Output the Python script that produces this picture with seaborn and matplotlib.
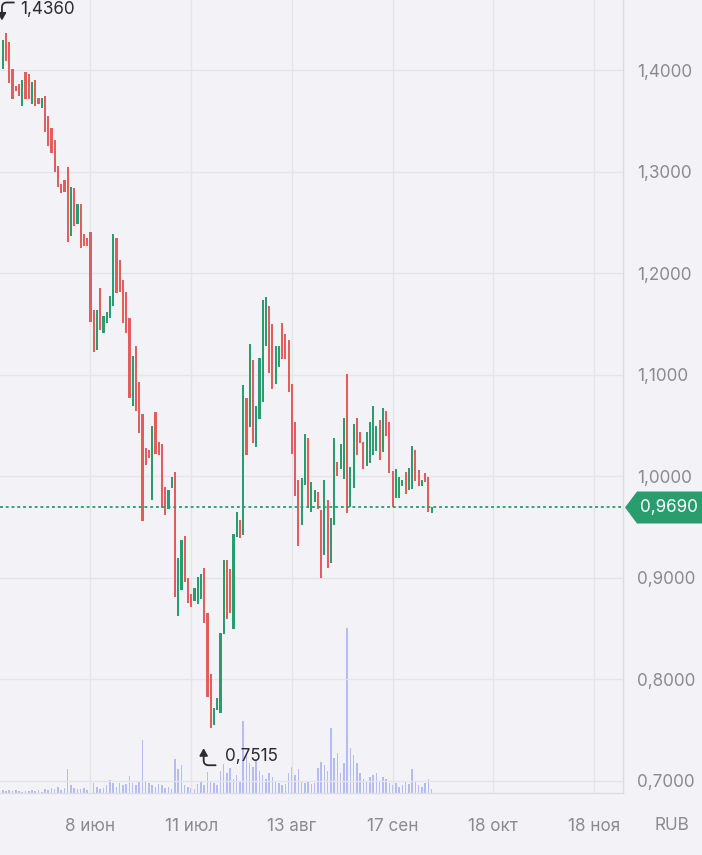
import numpy as np
import pandas as pd
import matplotlib
matplotlib.use("Agg")
import matplotlib.pyplot as plt
import matplotlib.transforms as mtransforms
from matplotlib.patches import Polygon
import seaborn as sns

# ---------------- data ----------------
opens = [1.401, 1.436, 1.4273, 1.4007, 1.3845, 1.3859, 1.3648, 1.3977, 1.396, 1.3668,
         1.3901, 1.3727, 1.3629, 1.3744, 1.3547, 1.3425, 1.331, 1.3057, 1.2874, 1.2916,
         1.3047, 1.2367, 1.284, 1.2483, 1.2677, 1.2381, 1.2342, 1.2407, 1.1635, 1.1241,
         1.1855, 1.1405, 1.1504, 1.156, 1.1678, 1.2342, 1.2128, 1.1931, 1.1816, 1.1553,
         1.069, 1.1284, 1.0929, 1.0608, 1.0273, 1.0256, 0.9764, 1.0634, 1.0332, 1.0312,
         0.9895, 0.9675, 0.9879, 1.0036, 0.8623, 0.8877, 0.9409, 0.8992, 0.8837, 0.8764,
         0.8739, 0.8785, 0.9091, 0.8647, 0.8049, 0.7547, 0.7695, 0.7662, 0.8443, 0.9172,
         0.9081, 0.849, 0.9402, 0.9567, 0.9419, 1.0765, 1.048, 1.1143, 1.0283, 1.0559,
         1.0732, 1.1284, 1.1678, 1.1494, 1.0903, 1.1077, 1.1504, 1.1396, 1.134, 1.0903,
         1.0535, 0.9961, 0.9517, 0.9911, 1.0377, 0.9648, 0.9741, 0.9839, 0.9665, 0.9222,
         0.9764, 0.914, 0.9517, 1.0135, 1.0069, 0.997, 1.1002, 0.9698, 0.9885, 1.0574,
         1.043, 1.0332, 1.0101, 1.0125, 1.0207, 1.0246, 1.0552, 1.0239, 1.064, 1.0529,
         1.0049, 0.978, 0.978, 0.9904, 1.0036, 0.9862, 0.9872, 1.0256, 1.0059, 0.9904,
         1.0026, 0.9993, 0.9633]
closes = [1.4296, 1.409, 1.3869, 1.3714, 1.3793, 1.3747, 1.3901, 1.3714, 1.3714, 1.3884,
          1.3648, 1.3668, 1.3721, 1.3392, 1.3254, 1.3179, 1.3, 1.2844, 1.2785, 1.2801,
          1.2308, 1.285, 1.2466, 1.2677, 1.225, 1.2269, 1.2269, 1.1517, 1.1225, 1.1635,
          1.1438, 1.1579, 1.1613, 1.1776, 1.2381, 1.18, 1.1816, 1.1504, 1.1406, 1.0771,
          1.1185, 1.064, 1.042, 0.9557, 1.0108, 1.018, 1.0496, 1.0214, 1.0207, 0.9682,
          0.9616, 0.9862, 0.9993, 0.8811, 0.9192, 0.9369, 0.8959, 0.8746, 0.8706, 0.8894,
          0.9002, 0.9034, 0.8549, 0.7826, 0.7515, 0.7711, 0.781, 0.845, 0.9172, 0.8588,
          0.8647, 0.9429, 0.9648, 0.9386, 1.0897, 1.0207, 1.13, 1.0322, 1.069, 1.1159,
          1.1734, 1.1767, 1.1012, 1.0857, 1.1284, 1.1284, 1.1153, 1.1153, 1.0831, 1.0214,
          0.9806, 0.9313, 0.9984, 1.0411, 0.9688, 0.9944, 0.9862, 0.9675, 0.8998, 0.9961,
          0.9097, 0.9583, 1.0377, 1.0003, 1.0312, 1.0574, 0.9633, 1.0092, 1.0509, 1.0207,
          1.0322, 1.0069, 1.043, 1.0529, 1.0693, 1.0496, 1.0158, 1.0673, 1.0397, 1.0026,
          0.9698, 1.0069, 0.9993, 0.9961, 0.982, 1.0076, 1.0298, 0.9951, 0.9904, 0.9961,
          0.9944, 0.9648, 0.969]
volumes = [3, 2, 3, 2, 3, 2, 1, 2, 2, 3, 2, 3, 1, 4, 3, 5, 4, 6, 3, 5,
           24, 8, 5, 4, 4, 5, 3, 13, 10, 6, 4, 5, 8, 13, 10, 6, 10, 8, 9, 17,
           10, 8, 12, 53, 12, 10, 8, 6, 9, 8, 5, 6, 4, 34, 24, 28, 8, 6, 5, 4,
           9, 12, 8, 21, 12, 10, 8, 22, 29, 20, 25, 14, 18, 12, 72, 38, 30, 26, 34, 22,
           18, 14, 20, 16, 12, 10, 8, 9, 20, 26, 18, 24, 12, 10, 12, 9, 10, 25, 31, 28,
           22, 65, 35, 40, 20, 30, 165, 45, 38, 30, 20, 14, 12, 16, 18, 20, 12, 16, 14, 10,
           8, 10, 6, 8, 12, 9, 24, 12, 8, 6, 10, 14, 4]
x_tick_pos = [27, 58, 89, 120, 151, 182]
x_tick_labels = ["8 июн", "11 июл", "13 авг", "17 сен", "18 окт", "18 ноя"]
y_ticks = [0.7, 0.8, 0.9, 1.0, 1.1, 1.2, 1.3, 1.4]
last_price = 0.9690
currency = "RUB"

# ---------------- style ----------------
BG = "#f2f2f7"
GRID = "#e4e4ea"
GREEN = "#2a9d6f"
RED = "#e35d5d"
VOL = "#b4bcf2"
LABEL = "#8a8a8f"
DARK = "#2c2c2e"
FS = 12.3

sns.set_theme(style="white", rc={"axes.facecolor": BG, "figure.facecolor": BG})
plt.rcParams["font.family"] = ["Inter", "DejaVu Sans"]

n = len(opens)
df = pd.DataFrame({"i": np.arange(n), "open": opens, "close": closes, "vol": volumes})
df["up"] = df["close"] >= df["open"]

fig = plt.figure(figsize=(7.02, 8.55), dpi=100)
rect = [0.0, 62 / 855, 623 / 702, 793 / 855]
ax_v = fig.add_axes(rect)
ax = fig.add_axes(rect, sharex=ax_v)
ax.patch.set_visible(False)
ax_v.set_facecolor(BG)

# volume (background)
sns.barplot(data=df, x="i", y="vol", native_scale=True, color=VOL, width=0.5,
            saturation=1, errorbar=None, ax=ax_v, linewidth=0, edgecolor="none")
ax_v.set_ylim(0, 793)
ax_v.set_yticks([])
ax_v.set_xlabel("")
ax_v.set_ylabel("")
for s in ax_v.spines.values():
    s.set_visible(False)
ax_v.tick_params(axis="x", length=0, labelbottom=False)
ax_v.grid(False)

# candles
colors = np.where(df["up"], GREEN, RED)
body = (df["close"] - df["open"]).to_numpy()
body = np.where(np.abs(body) < 0.003, np.sign(body + 1e-9) * 0.003, body)
ax.bar(df["i"], body, bottom=df["open"], width=0.68, color=colors, linewidth=0, zorder=3)

ax.set_xlim(-0.83, 190.9)
ax.set_ylim(0.6877, 1.469)

# grid lines
for yv in y_ticks:
    ax.axhline(yv, color=GRID, lw=1.0, zorder=0)
for xv in x_tick_pos:
    ax.axvline(xv, color=GRID, lw=1.0, zorder=0)

# last price dotted line
ax.axhline(last_price, color=GREEN, lw=1.3, ls=(0, (1.6, 1.6)), zorder=4)

# axes ticks
ax.set_xticks(x_tick_pos)
ax.set_xticklabels(x_tick_labels)
ax.set_yticks(y_ticks)
ax.set_yticklabels([f"{v:.4f}".replace(".", ",") for v in y_ticks])
ax.yaxis.tick_right()
ax.tick_params(axis="y", length=0, pad=10, labelsize=FS, labelcolor=LABEL)
ax.tick_params(axis="x", length=0, pad=18, labelsize=FS, labelcolor=LABEL)
for lab in ax.get_yticklabels():
    lab.set_horizontalalignment("left")
for k in ["left", "top"]:
    ax.spines[k].set_visible(False)
for k in ["right", "bottom"]:
    ax.spines[k].set_color("#dcdce2")
    ax.spines[k].set_linewidth(1.0)
ax.grid(False)

# currency label
fig.text(672 / 702, 1 - 825 / 855, currency, ha="center", va="center",
         fontsize=FS, color=LABEL)

# high / low annotations
i_max = int(np.argmax(np.maximum(opens, closes)))
v_max = max(max(opens), max(closes))
i_min = int(np.argmin(np.minimum(opens, closes)))
v_min = min(min(opens), min(closes))
fmt = lambda v: f"{v:.4f}".replace(".", ",")
ax.annotate(fmt(v_max), xy=(i_max, v_max), xytext=(14, 24),
            textcoords="offset pixels", ha="left", va="center", fontsize=FS,
            color=DARK, zorder=5, annotation_clip=False)
ax.annotate(fmt(v_min), xy=(i_min, v_min), xytext=(14, -28),
            textcoords="offset pixels", ha="left", va="center", fontsize=FS,
            color=DARK, zorder=5)


def hook_arrow(i, v, tail, tip):
    """Small curved arrow symbol next to a label (offsets in pixels)."""
    base = ax.transData.transform((i, v))
    ax.annotate("", xy=(base[0] + tip[0], base[1] + tip[1]), xycoords="figure pixels",
                xytext=(base[0] + tail[0], base[1] + tail[1]), textcoords="figure pixels",
                arrowprops=dict(arrowstyle="-|>,head_length=0.35,head_width=0.2",
                                connectionstyle="angle,angleA=0,angleB=90,rad=5",
                                color=DARK, lw=1.3, shrinkA=0, shrinkB=0),
                annotation_clip=False, zorder=5)


hook_arrow(i_max, v_max, tail=(8, 31), tip=(-4, 13))
hook_arrow(i_min, v_min, tail=(5, -37), tip=(-7, -20))

# price badge
x0 = ax.transAxes.transform((1.0, 0.0))[0]
y0 = ax.transData.transform((0, last_price))[1]
h = 16
verts = [(x0 + 2, y0), (x0 + 14, y0 + h), (702, y0 + h), (702, y0 - h), (x0 + 14, y0 - h)]
badge = Polygon(verts, closed=True, facecolor=GREEN, edgecolor="none",
                transform=mtransforms.IdentityTransform(), joinstyle="round",
                clip_on=False, zorder=5)
ax.add_artist(badge)
ax.text(1.027, last_price, fmt(last_price),
        transform=mtransforms.blended_transform_factory(ax.transAxes, ax.transData),
        ha="left", va="center", fontsize=FS, color="white", zorder=6, clip_on=False)

fig.savefig("out.png", dpi=100, facecolor=BG)
